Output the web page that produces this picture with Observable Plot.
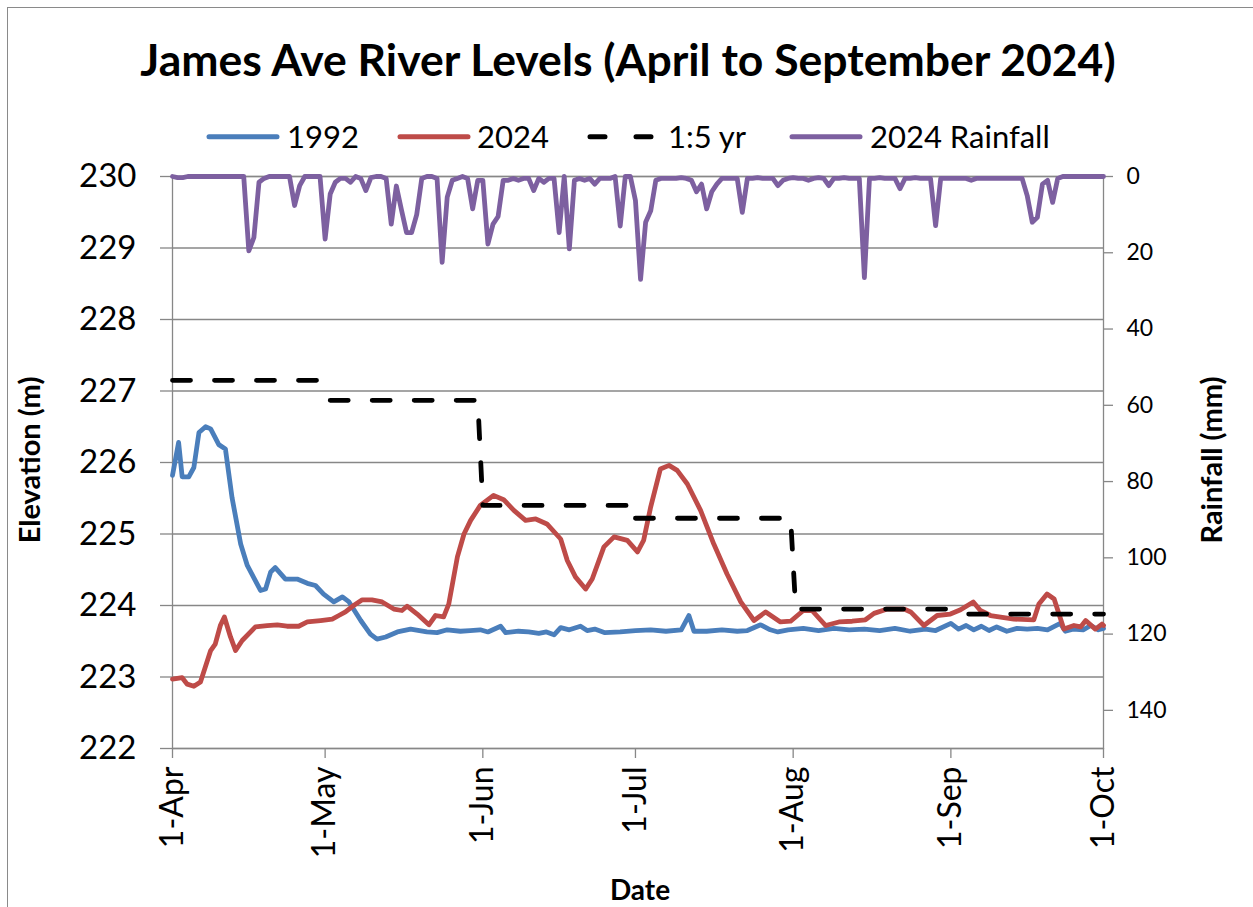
<!DOCTYPE html>
<html><head><meta charset="utf-8">
<script src="https://cdn.jsdelivr.net/npm/d3@7"></script>
<script src="https://cdn.jsdelivr.net/npm/@observablehq/plot@0.6"></script>
<style>
body{margin:0;background:#fff;font-family:Lato,sans-serif;}
#wrap{position:relative;width:1253px;height:907px;overflow:hidden;background:#fff;}
#frame{position:absolute;left:7px;top:7px;width:1300px;height:1000px;border:1.5px solid #8a8a8a;}
#chart{position:absolute;left:0;top:0;}
.t{position:absolute;white-space:nowrap;color:#000;font-family:Lato,sans-serif;}
#title{left:0;width:1256px;text-align:center;top:37px;font-size:44.5px;line-height:44.5px;font-weight:700;}
.rot{transform:translate(-50%,-50%) rotate(-90deg);font-weight:700;font-size:29px;line-height:29px;}
#ylab{left:28px;top:460px;}
#y2lab{left:1210px;top:460px;}
#xlab{left:640px;top:889px;transform:translate(-50%,-50%);font-weight:700;font-size:28px;line-height:28px;}
#legend{position:absolute;left:0;top:117px;}
</style></head><body>
<div id="wrap">
<div id="frame"></div>
<div id="chart"></div>
<div class="t" id="title">James Ave River Levels (April to September 2024)</div>
<svg id="legend" width="1253" height="40" font-family="Lato, sans-serif" font-size="31">
  <line x1="209" x2="277" y1="19.7" y2="19.7" stroke="#4A7EBB" stroke-width="5" stroke-linecap="round"/>
  <text x="287" y="31">1992</text>
  <line x1="400" x2="468" y1="19.7" y2="19.7" stroke="#BE4B48" stroke-width="5" stroke-linecap="round"/>
  <text x="477" y="31">2024</text>
  <line x1="590" x2="651" y1="19.7" y2="19.7" stroke="#000" stroke-width="5" stroke-linecap="round" stroke-dasharray="15,31"/>
  <text x="668" y="31">1:5 yr</text>
  <line x1="792" x2="860" y1="19.7" y2="19.7" stroke="#7D60A0" stroke-width="5" stroke-linecap="round"/>
  <text x="870" y="31">2024 Rainfall</text>
</svg>
<div class="t rot" id="ylab">Elevation (m)</div>
<div class="t rot" id="y2lab">Rainfall (mm)</div>
<div class="t" id="xlab">Date</div>
</div>
<script>
// ---- data (day offset from 1-Apr-2024, value) ----
const elevTicks = [222, 223, 224, 225, 226, 227, 228, 229, 230];
const rainTicks = [0, 20, 40, 60, 80, 100, 120, 140];
const monthTickDays = [0, 30, 61, 91, 122, 153, 183];

const level1992 = [
[0,225.82],[1.2,226.28],[1.9,225.80],[3.2,225.80],[4.2,225.93],[5.2,226.42],[6.5,226.50],[7.5,226.47],
[9.1,226.25],[10.4,226.19],[11.7,225.51],[13.4,224.86],[14.7,224.56],[17.3,224.21],[18.3,224.23],
[19.3,224.47],[20.2,224.53],[22.2,224.37],[24.5,224.37],[26.5,224.31],[28.1,224.28],[29.7,224.16],
[31.7,224.05],[33.4,224.12],[34.7,224.05],[37,223.79],[38.9,223.60],[40.2,223.53],[41.9,223.56],
[44.2,223.63],[46.8,223.67],[50,223.63],[52,223.62],[54,223.66],[56.6,223.64],[58.5,223.65],
[60.5,223.66],[62,223.63],[64.5,223.71],[65.5,223.62],[68,223.64],[70,223.63],[72,223.61],
[73.5,223.63],[75,223.59],[76.3,223.69],[78,223.66],[80.2,223.71],[81.5,223.65],[83,223.67],
[85,223.62],[88,223.63],[91,223.65],[94,223.66],[97,223.64],[100,223.66],[101.5,223.86],[102.5,223.64],
[105,223.64],[108,223.66],[111,223.64],[113,223.65],[115.6,223.73],[117.5,223.66],[119,223.63],
[121,223.66],[124,223.68],[127,223.65],[130,223.68],[133,223.66],[136,223.67],[139,223.65],
[142,223.68],[145,223.64],[148,223.67],[150,223.65],[153,223.75],[154.5,223.67],[156,223.72],
[157.5,223.66],[159,223.71],[160.5,223.65],[162,223.70],[164,223.64],[166,223.68],[168,223.67],
[170,223.68],[172,223.66],[174.5,223.75],[175.5,223.64],[177,223.67],[179,223.66],[180.5,223.72],
[182,223.66],[183,223.68]
];

const level2024 = [
[0,222.97],[1.9,222.99],[2.9,222.90],[4.2,222.87],[5.5,222.93],[7.5,223.37],[8.4,223.46],[9.4,223.72],
[10.2,223.84],[11.4,223.56],[12.4,223.37],[13.7,223.51],[16.3,223.70],[18.6,223.72],[20.6,223.73],
[22.5,223.71],[24.8,223.71],[26.5,223.77],[29.1,223.79],[31.4,223.81],[32.7,223.86],[34,223.91],
[35.6,224.00],[37.3,224.08],[39.2,224.08],[41.2,224.05],[43.5,223.95],[45.1,223.93],[46.1,223.99],
[48.1,223.88],[50.4,223.73],[51.7,223.86],[53.3,223.84],[54.3,224.02],[56,224.68],[57.3,225.00],
[58.6,225.19],[60.5,225.40],[63.1,225.54],[65.1,225.48],[67.1,225.33],[69.4,225.19],[71.4,225.21],
[73.6,225.14],[76.3,224.93],[77.6,224.63],[79.2,224.40],[81.2,224.23],[82.5,224.37],[84.8,224.82],
[86.8,224.96],[89.4,224.91],[91.4,224.75],[92.6,224.91],[94,225.38],[95.9,225.91],[97.6,225.96],
[99.2,225.89],[101.2,225.70],[103.8,225.33],[106.4,224.86],[109,224.44],[111.7,224.05],[114.3,223.79],
[116.6,223.91],[119.5,223.77],[121.5,223.78],[124,223.93],[125.7,223.93],[128.4,223.72],[131,223.77],
[133.6,223.78],[136.2,223.80],[137.9,223.89],[140.5,223.95],[143.8,223.95],[145.1,223.91],[147.7,223.72],
[150.3,223.86],[152.9,223.88],[154.9,223.94],[157.4,224.05],[158.8,223.93],[160.8,223.86],[165.4,223.81],
[169.3,223.80],[170.3,224.02],[171.9,224.16],[173.3,224.09],[175.2,223.67],[177.2,223.72],[178.5,223.70],
[179.5,223.79],[181.4,223.67],[182.7,223.74],[183,223.72]
];

// 1:5 yr flood level: [segment, day, elevation]
const floodLevel = [
[1,0,227.15],[1,30,227.15],
[2,31,226.87],[2,60,226.87],[2,61,225.40],[2,90.5,225.40],
[3,91,225.22],[3,121.5,225.22],[3,122.5,223.95],[3,156,223.95],
[4,156.5,223.88],[4,183,223.88]
];

// daily rainfall 2024 (mm), day 0 = 1-Apr
const rainfall2024 = [
0,0.3,0.3,0,0,0,0,0,0,0,
0,0,0,0,0,19.5,16,1.5,0.5,0,
0,0,0,0,7.6,2.4,0,0,0,0,
16.4,4.6,1.5,0.5,0.5,1.5,0,0.5,3.7,0.3,
0,0,0.5,12.5,2.5,8.7,14.7,14.7,10,0.5,
0,0,0.5,22.5,5.4,1,0.5,0,0.5,8.5,
1,1,17.7,12.5,10.5,1,1,0.5,1,0.5,
0.5,3.7,0.5,1.5,0.5,0.5,14.7,0,19,1,
0.5,1,0.5,2,0.5,0.5,0.5,0,13,0,
0,6.3,27,12,9,1,0.5,0.5,0.5,0.5,
0.3,0.5,1,4,2,8.5,4,2,0.5,0.5,
0.5,0.5,9.4,0.5,0.5,0.3,0.5,0.5,0.5,2.4,
1,0.5,0.3,0.5,0.5,1,0.5,0.3,0.5,2.4,
0.5,0.5,0.3,0.5,0.5,0.5,26.5,0.5,0.5,0.3,
0.5,0.5,0.5,3.2,0.5,0.5,0.3,0.5,0.5,0.5,
12.9,0.5,0.5,0.5,0.5,0.5,0.5,1,0.5,0.5,
0.5,0.5,0.5,0.5,0.5,0.5,0.5,0.5,5,12,
10.7,2,1,6.8,0.5,0,0,0,0,0,
0,0,0,0
];

// ---- helpers ----
const start = Date.UTC(2024, 3, 1);
const toDate = d => new Date(start + d * 864e5);
const rainMax = 150, elevTop = 230, elevBottom = 222;
const mmToElev = mm => elevTop - mm * (elevTop - elevBottom) / rainMax;
const elevToMm = e => Math.round((elevTop - e) * rainMax / (elevTop - elevBottom));

const d1992 = level1992.map(([d, v]) => ({date: toDate(d), v}));
const d2024 = level2024.map(([d, v]) => ({date: toDate(d), v}));
const dFlood = floodLevel.map(([s, d, v]) => ({seg: s, date: toDate(d), v}));
const dRain = rainfall2024.map((mm, i) => ({date: toDate(i), v: mmToElev(mm)}));
const monthTicks = monthTickDays.map(toDate);

const grid = "#878787";
const lw = 4.8;
const chart = Plot.plot({
  width: 1253, height: 907,
  marginTop: 176, marginBottom: 159, marginLeft: 172, marginRight: 150,
  x: {type: "utc", domain: [toDate(0), toDate(183)]},
  y: {domain: [elevBottom, elevTop]},
  style: {fontFamily: "Lato, sans-serif", background: "transparent", overflow: "visible", color: "#000"},
  marks: [
    Plot.ruleY(elevTicks, {stroke: grid, strokeWidth: 1.3}),
    Plot.frame({stroke: grid, strokeWidth: 1.3}),
    Plot.axisY(elevTicks, {anchor: "left", tickSize: 12, tickPadding: 24, fontSize: 33, stroke: grid, strokeWidth: 1.3, fill: "#000", label: null, tickFormat: d => d}),
    Plot.axisY(rainTicks.map(mmToElev), {anchor: "right", tickSize: 9, tickPadding: 14, fontSize: 23, stroke: grid, strokeWidth: 1.3, fill: "#000", label: null, tickFormat: elevToMm}),
    Plot.axisX(monthTicks, {anchor: "bottom", tickRotate: -90, tickSize: 10, tickPadding: 8, fontSize: 32, stroke: grid, strokeWidth: 1.3, fill: "#000", label: null, tickFormat: d3.utcFormat("%-d-%b")}),
    Plot.line(d1992, {x: "date", y: "v", stroke: "#4A7EBB", strokeWidth: lw, strokeLinejoin: "round", strokeLinecap: "round"}),
    Plot.line(d2024, {x: "date", y: "v", stroke: "#BE4B48", strokeWidth: lw, strokeLinejoin: "round", strokeLinecap: "round"}),
    Plot.line(dFlood, {x: "date", y: "v", z: "seg", stroke: "#000", strokeWidth: lw, strokeDasharray: "18,24", strokeLinecap: "round"}),
    Plot.line(dRain, {x: "date", y: "v", stroke: "#7D60A0", strokeWidth: lw, strokeLinejoin: "round", strokeLinecap: "round"})
  ]
});
document.getElementById("chart").appendChild(chart);
</script>
</body></html>
